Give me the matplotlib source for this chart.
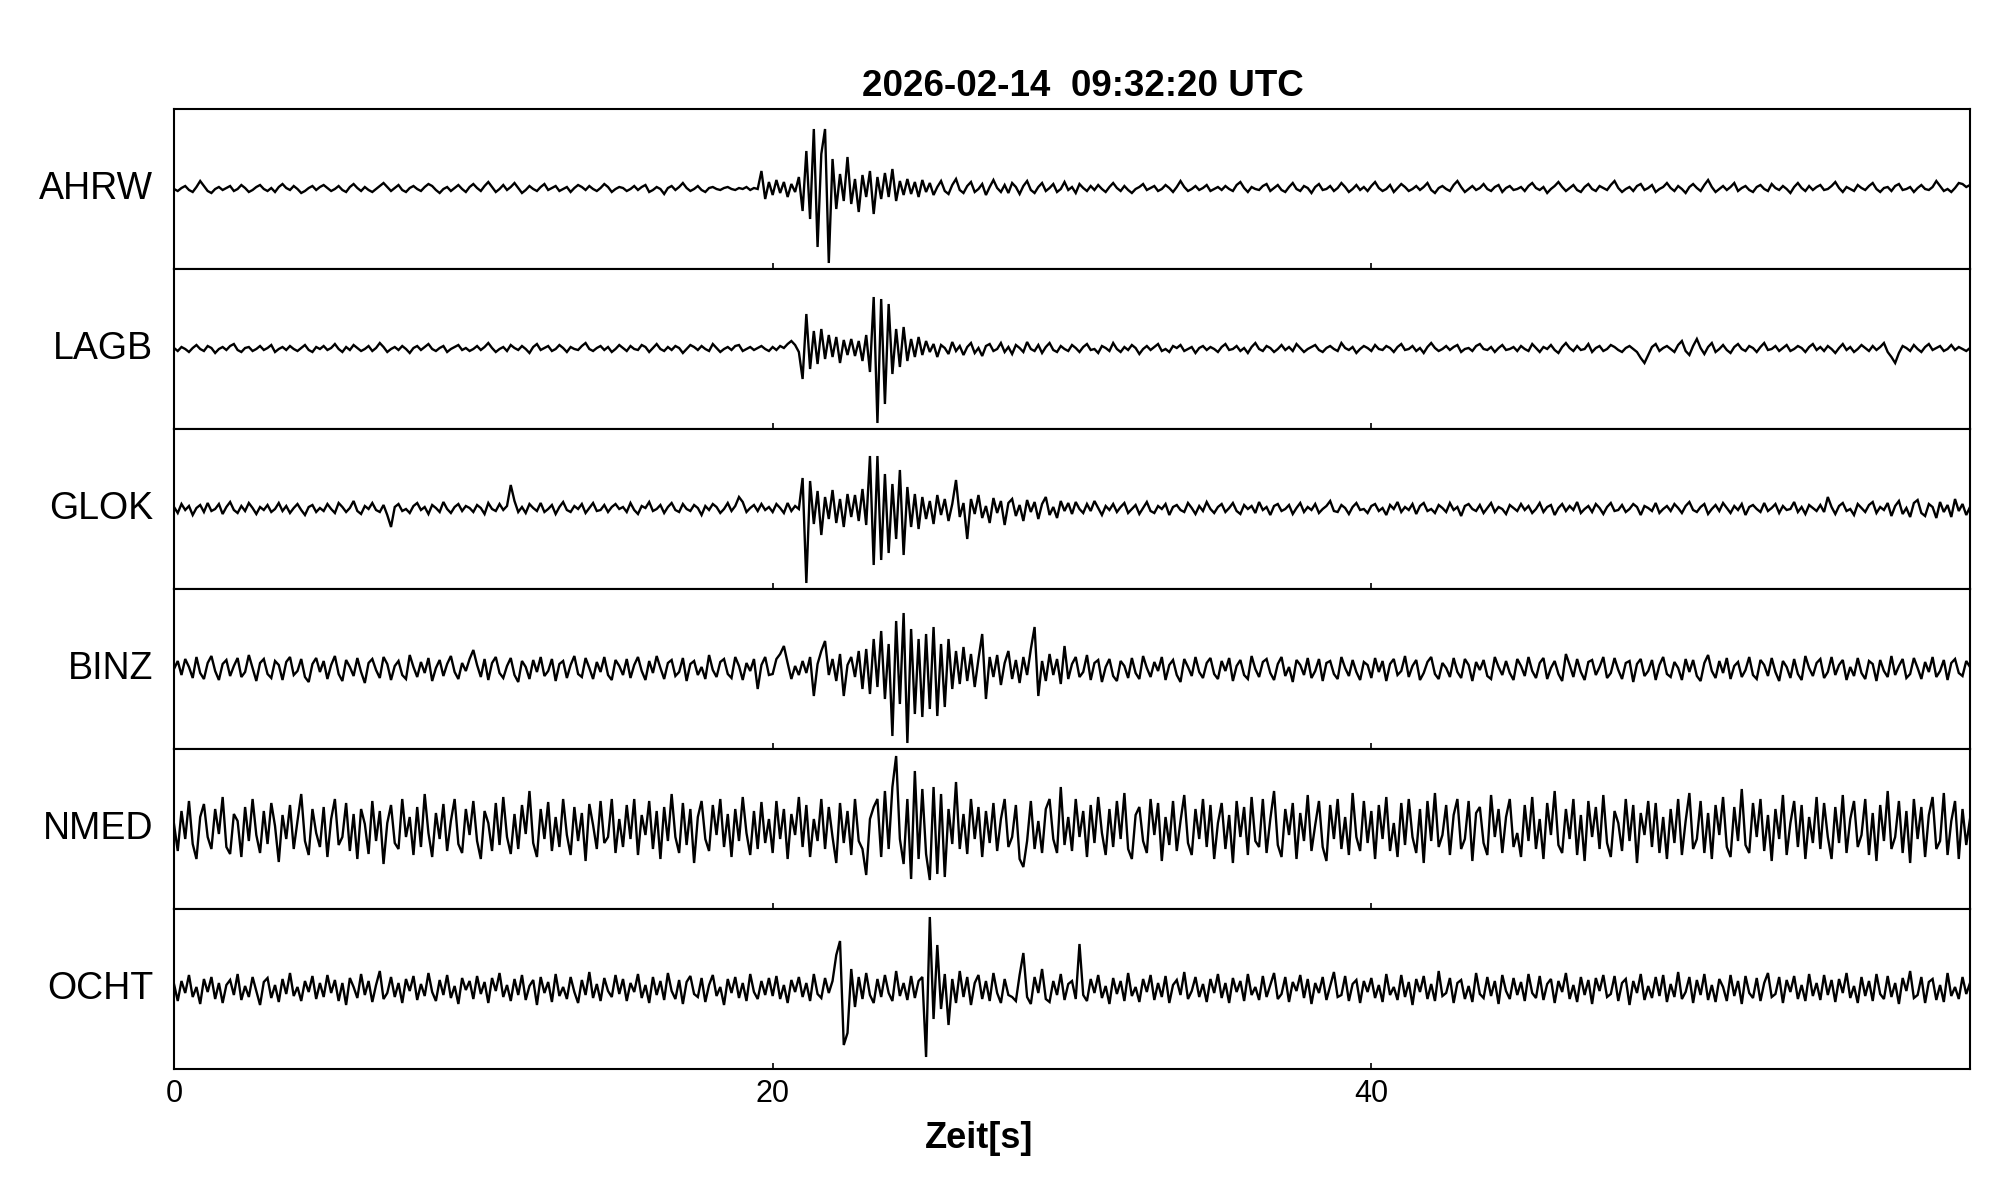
import numpy as np
import matplotlib
matplotlib.use("Agg")
import matplotlib.pyplot as plt

plt.rcParams['font.family'] = ['Liberation Sans', 'DejaVu Sans']

TITLE = "2026-02-14  09:32:20 UTC"
XLABEL = "Zeit[s]"
STATIONS = ["AHRW", "LAGB", "GLOK", "BINZ", "NMED", "OCHT"]
X_TICKS = [0, 20, 40]
FS = 8.0

AHRW = [
    0,-2,1,3,-1,-3,2,8,3,-2,-4,0,2,-1,1,3,-2,0,4,1,-3,-1,2,4,0,-2,1,-3,2,5,1,-1,3,0,-4,-2,1,3,-1,2,
    4,1,-2,0,3,-1,-3,2,5,1,-2,2,-1,-3,0,3,6,2,-2,1,4,-1,-3,1,3,0,-2,2,5,3,-1,-4,0,2,-2,1,4,0,-3,2,
    5,1,-2,3,7,2,-3,0,4,-1,2,6,1,-4,-1,3,0,-2,2,5,-1,1,3,-2,0,2,-3,1,4,2,-1,3,0,-2,1,5,2,-3,0,2,
    1,-2,0,3,-1,2,4,-3,-1,2,0,-5,1,3,-1,2,6,1,-2,0,3,-1,-3,1,2,0,-1,1,2,0,-1,1,0,2,-1,1,0,18,-10,7,
    -6,9,-4,7,-8,5,-3,12,-22,38,-30,60,-58,35,60,-74,30,-20,15,-12,32,-15,10,-23,14,-8,18,-25,12,-10,16,-8,20,-12,8,-6,10,-5,7,-8,
    9,-3,6,-6,2,8,-2,-5,4,10,-1,-4,3,7,-3,0,5,-6,2,9,1,-3,4,-4,6,2,-5,3,8,-1,-4,2,6,-2,1,5,-3,0,7,-1,
    2,-4,5,1,-2,3,-1,4,0,-3,2,6,1,-2,3,-1,-4,0,2,5,-1,1,3,-2,0,4,1,-3,2,8,2,-2,0,3,-1,1,4,-2,0,2,
    -1,3,0,-2,4,7,1,-3,2,0,-1,3,5,-2,1,4,-1,-3,2,6,0,-2,3,1,-4,2,5,-1,0,3,-2,1,6,2,-3,0,4,-1,2,-2,
    3,7,1,-2,0,4,-3,1,5,2,-2,0,3,-1,2,6,-1,-4,1,3,0,-2,4,8,2,-3,0,3,-1,1,5,0,-2,2,4,-3,1,3,-1,0,
    2,-2,3,6,1,-1,2,-4,0,3,7,2,-2,1,4,-1,-3,2,5,0,-2,3,1,-1,4,8,1,-3,0,2,-2,3,5,-1,1,4,-3,0,2,6,
    1,-2,3,0,-4,2,5,1,-2,4,9,2,-3,0,3,-1,2,6,-2,1,3,-1,-3,2,4,0,-2,5,1,-1,3,0,-4,2,6,1,-2,3,-1,2,
    4,-1,0,3,7,1,-3,2,0,-2,4,1,-1,3,6,0,-3,1,2,-2,3,5,-1,0,2,-3,1,4,0,-1,2,8,3,-2,0,-3,1,6,5,2,
    4,
]

LAGB = [
    1,-2,2,0,-3,1,4,0,-2,3,1,-4,0,2,-1,3,5,-1,-3,1,2,-2,0,3,-1,1,4,-3,0,2,-1,3,0,-2,1,4,-1,-3,2,0,
    3,-1,1,5,0,-3,2,-1,4,1,-2,0,3,-2,1,6,2,-3,0,2,-1,3,0,-4,1,3,-1,2,5,0,-2,1,3,-3,0,2,4,-1,1,-2,
    0,3,-1,2,6,1,-3,0,2,-2,4,1,-1,3,0,-4,2,5,-1,1,3,-2,0,4,1,-3,2,0,-1,3,6,0,-2,1,3,-1,2,-3,0,4,
    1,-2,3,0,-1,4,2,-3,1,5,0,-2,2,-1,3,1,-4,0,4,2,-1,3,0,-2,5,1,-3,0,2,-1,3,4,-2,0,2,-1,1,3,0,-2,
    2,-1,3,1,5,8,4,-3,-30,35,-20,18,-15,20,-10,14,-8,12,-14,9,-6,10,-7,8,-12,14,-23,52,-74,50,-55,45,-25,20,-18,22,-12,10,-8,12,
    -6,8,-3,5,-8,4,1,-5,7,-2,3,-6,2,6,-4,1,-7,3,5,-2,0,6,-3,2,-5,4,1,-3,7,0,-2,4,-4,2,6,-1,-3,3,0,-2,
    4,1,-3,2,5,-1,0,-4,3,1,-2,6,0,-3,2,-1,4,1,-5,0,3,-1,2,5,-2,0,-3,3,1,4,-2,0,2,-4,1,3,-1,2,0,-3,
    2,5,-1,0,3,-2,1,-4,2,6,0,-2,3,1,-3,0,4,-1,2,-2,5,1,-3,0,2,4,-1,-3,1,3,0,-2,6,1,-1,2,-4,0,3,1,
    -2,4,0,-1,3,1,-3,2,5,-1,0,3,-2,1,-4,2,6,1,-2,0,3,-1,2,4,-3,0,1,-2,3,5,0,-1,2,-3,1,4,-1,0,2,-2,
    3,0,-2,5,1,-3,2,0,4,-1,-4,2,6,1,-2,3,-1,0,5,-3,1,3,-2,0,4,2,-1,-3,1,3,0,-3,-9,-14,-6,2,5,-2,1,3,
    0,-3,4,8,-2,-6,3,10,1,-5,2,6,-3,0,4,-1,-4,2,5,0,-2,3,1,-3,2,6,-1,0,3,-2,1,4,-2,0,3,1,-3,2,5,-1,
    2,-2,3,0,-4,1,5,-1,2,-3,0,4,1,-2,3,-1,2,6,-3,-8,-14,-4,3,1,-2,4,0,-3,2,5,-1,1,3,-2,0,4,-1,2,0,-2,
    1,
]

GLOK = [
    2,-4,5,-1,3,-6,1,4,-3,6,-2,0,5,-5,2,7,-1,-4,3,-2,6,1,-5,2,-1,4,-3,0,6,-2,3,-4,1,5,-1,-6,2,4,-3,1,
    -2,5,0,-4,6,2,-3,1,8,-2,-5,3,0,6,-1,-3,4,-6,-18,2,5,-2,0,-4,3,6,-1,2,-5,4,1,-3,7,0,-4,2,5,-2,3,1,
    -3,4,1,-5,6,0,-2,5,-1,3,24,8,-3,2,-4,5,1,-2,6,-3,0,4,-5,2,7,-1,-3,3,0,5,-4,1,6,-2,-1,4,-3,2,5,0,
    2,-3,6,-1,-5,3,1,7,-2,0,4,-4,2,6,-1,-3,5,0,-2,4,1,-6,3,-1,5,2,-4,0,6,-2,3,12,7,-3,1,4,-2,5,-1,2,
    -3,5,1,-4,6,-2,3,0,31,-74,28,-15,18,-26,12,-10,19,-14,10,-18,15,-8,14,-12,20,-16,53,-56,53,-51,35,-44,25,-30,39,-46,22,-18,15,-20,
    12,-10,8,-15,14,-6,10,-12,5,29,-8,6,-30,10,-5,14,-9,3,-14,11,-4,8,-16,6,10,-7,4,-12,9,-3,7,-10,5,12,-6,2,-9,8,-2,6,
    -5,7,0,-4,5,-2,8,1,-6,3,-1,5,-3,2,6,-4,0,4,-5,1,7,-2,-4,3,0,5,-6,2,4,-1,-3,6,1,-5,3,-2,7,0,-4,2,
    5,-3,1,6,-2,-5,4,0,3,-4,7,-1,2,-6,3,5,-2,0,4,-5,1,6,-3,2,-1,5,-4,0,3,8,-2,-3,4,1,-5,2,6,-1,0,-4,
    3,5,-2,1,-6,4,0,7,-3,2,-1,5,-5,3,6,-2,0,-4,4,1,-3,6,-1,2,-7,3,5,0,-2,4,-4,1,6,-3,2,0,-5,4,1,-2,
    5,-1,3,-4,0,6,-3,2,4,-6,1,5,-2,3,-1,7,-4,0,3,-3,5,1,-5,2,6,-2,-1,4,-3,0,5,2,-6,3,1,-2,6,-4,0,3,
    -2,5,1,-4,3,7,-1,-3,2,5,-5,0,4,-2,6,1,-4,3,-1,5,-6,2,4,0,-3,6,-2,1,5,-4,3,-1,0,7,-3,2,-5,4,1,-2,
    4,-3,12,2,-5,3,6,-2,0,-6,5,1,-3,4,7,-4,2,-1,6,-7,3,8,-5,1,-8,6,9,-4,-7,5,2,-9,7,-3,4,-8,10,-2,5,-6,
    2,
]

BINZ = [
    0,8,-6,10,2,-9,12,-4,-10,6,13,-2,-11,5,9,-7,3,11,-8,-3,14,1,-12,6,10,-5,-9,8,4,-11,7,12,-6,-2,10,-8,-13,5,11,-3,
    8,-10,4,13,-5,-12,9,2,-7,11,-3,-14,6,10,-1,-9,12,5,-11,3,8,-6,-10,14,2,-8,7,-4,11,-12,1,9,-7,5,13,-3,-10,6,-2,10,
    19,4,-8,10,-11,6,12,-4,-9,3,11,-6,-13,8,2,-10,9,-3,12,-7,-2,10,-12,5,8,-9,4,13,-5,-8,11,1,-10,7,-3,12,-6,-11,9,3,
    -6,10,-9,4,12,-2,-11,8,-4,13,1,-10,6,9,-7,-3,11,-12,5,8,-6,2,-10,14,-1,-8,7,10,-5,-9,12,3,-11,6,-2,10,-20,4,12,-6,
    -5,10,15,23,6,-10,3,-6,8,-4,12,-27,5,18,28,-6,10,-12,15,-27,4,12,-8,18,-20,20,-25,30,-18,38,-30,25,-67,48,-35,56,-74,40,-45,30,
    -48,35,-40,42,-47,25,-38,30,-20,18,-15,22,-12,15,-18,10,35,-30,12,-8,14,-16,6,18,-10,9,-14,12,-6,20,42,-27,8,-12,15,-6,10,-15,23,-10,
    5,12,-8,-3,14,-11,6,9,-13,2,10,-7,-12,8,3,-9,11,-4,-10,13,1,-8,7,-2,12,-11,4,9,-6,-13,10,2,-7,12,-3,-9,6,11,-5,-10,
    8,-2,11,-12,3,9,-6,-10,13,0,-8,7,10,-4,-11,5,12,-7,2,-13,9,4,-6,11,-9,-2,10,-12,6,8,-5,-10,12,1,-7,9,-3,-11,7,4,
    -9,11,-3,8,-12,5,10,-6,-2,13,-8,3,9,-11,-4,7,12,-5,-10,6,1,-8,11,-3,-9,10,4,-12,7,-1,9,-7,-10,12,2,-6,8,-4,-11,10,
    3,-7,12,-2,-9,6,11,-10,1,8,-5,-12,15,4,-8,10,-3,-11,7,9,-6,2,12,-9,-4,11,-1,-10,6,8,-13,5,10,-7,-2,9,-11,4,12,-5,
    -8,7,1,-11,10,-3,9,-7,-12,6,14,-2,-9,8,-4,11,-10,3,7,-8,-1,12,-6,-10,9,4,-7,11,-3,-12,8,2,-9,10,-5,-11,13,1,-7,6,
    10,-9,-3,12,-6,4,9,-11,2,-7,11,-4,-10,8,5,-12,9,-2,-8,13,-6,3,10,-9,-5,11,1,-10,7,-3,12,-8,-2,9,-11,6,10,-4,-7,8,
    2,
]

NMED = [
    5,-22,18,-10,28,-15,-30,12,25,-8,-20,20,-5,32,-18,-25,15,8,-28,22,-12,30,-6,-24,18,-15,26,3,-33,14,-10,24,-20,8,35,-12,-26,20,-4,-18,
    22,-28,10,30,-16,-8,26,-22,15,-30,20,5,-25,28,-12,18,-35,6,24,-14,-20,30,-8,12,-26,22,-18,35,-4,-28,16,-10,25,-22,8,30,-15,-24,20,-6,
    28,-12,-30,18,6,-22,26,-16,32,-8,-25,15,-20,24,-5,38,-14,-28,20,-10,27,-22,12,-18,30,-6,-26,22,-12,16,-32,25,4,-20,28,-14,-8,30,-24,10,
    -18,24,-10,30,-26,14,-6,28,-20,18,-30,22,-12,35,-8,-24,26,-16,20,-34,12,28,-10,-22,24,-6,30,-18,15,-28,20,-12,32,-4,-26,18,-20,27,-14,10,
    -24,28,-10,20,-30,15,-6,32,-18,24,-28,10,-12,30,-20,22,-8,-34,26,-14,18,-26,30,-12,-20,-46,10,22,30,-28,38,-20,42,73,-10,-35,30,-50,58,-30,
    40,-25,-51,42,-45,35,-48,20,-15,47,-20,15,-25,30,-10,22,-28,18,-14,26,-22,10,30,-18,-8,24,-30,-38,-12,28,-20,8,-24,20,30,-10,-24,42,-16,12,
    -22,30,-8,18,-28,24,-14,32,-4,-26,20,-18,28,-10,36,-20,-30,14,22,-12,-24,30,-6,26,-32,12,-16,28,-22,8,34,-14,-26,20,-10,30,-18,24,-30,6,
    26,-20,14,-34,28,-8,22,-26,32,-12,-18,30,-24,10,38,-16,-28,20,-6,26,-30,16,-12,34,-22,4,28,-18,-32,24,-10,30,-20,12,-26,36,-8,-22,28,-14,
    18,-30,24,-10,32,-22,6,-28,26,-16,30,-8,-24,20,-34,28,-12,36,-18,-6,24,-26,14,30,-20,-10,28,-32,16,22,-14,-26,34,-8,20,-24,12,30,-18,-4,
    -28,24,-12,32,-20,10,-30,26,-6,38,-16,-24,20,-10,30,-26,14,-32,28,-8,22,-20,34,-14,-28,18,6,-22,30,-12,24,-34,16,-6,28,-18,26,-24,12,-30,
    20,-14,30,-26,8,36,-20,-10,28,-24,16,-30,24,-6,32,-18,-28,22,-12,40,-16,-24,26,-8,30,-22,14,-32,20,-10,34,-26,6,28,-18,24,-30,12,-14,32,
    -20,26,-8,-30,22,-14,34,-24,10,28,-18,-6,30,-26,16,-32,24,-12,38,-20,-8,28,-24,18,-34,30,-10,22,-28,14,32,-20,-12,36,-26,8,28,-30,20,-16,
    10,
]

OCHT = [
    5,-12,8,-4,14,-8,2,-15,10,-3,12,-10,6,-14,4,9,-6,15,-11,3,-8,12,-2,-16,7,11,-9,4,-13,10,-5,16,-7,2,-12,8,-3,13,-10,6,
    -8,14,-4,9,-12,6,-16,11,2,-9,15,-6,8,-13,4,18,-10,-4,12,-8,6,-14,10,-2,13,-11,5,-7,16,-3,-12,9,-6,14,-9,3,-15,11,-1,8,
    -10,13,-5,7,-14,11,-2,16,-8,4,-12,10,-6,14,-11,3,9,-16,12,-4,7,-13,15,-7,2,-10,12,-3,-14,9,-6,17,-9,5,-12,11,-2,-8,14,-5,
    10,-12,6,-3,15,-9,4,-14,12,-6,8,-11,16,-2,-10,9,-15,7,13,-5,-8,11,-13,4,14,-7,2,-16,10,-4,12,-9,6,-12,15,-3,-10,8,-6,11,
    -7,13,-10,4,-14,9,-3,12,-8,6,-12,15,-5,-9,11,-4,8,34,48,-56,-44,20,-18,12,-10,16,-6,-14,10,-8,14,-4,-12,18,-7,6,-11,13,-9,8,
    12,-68,72,-30,44,-20,15,-36,10,-14,18,-8,12,-16,6,14,-10,8,-12,16,-4,-14,10,-6,-8,-12,14,36,-8,-15,12,-4,20,-10,-13,8,-6,15,-11,5,
    8,-10,45,-6,-12,10,-4,14,-9,3,-15,11,-5,8,-12,16,-7,2,-13,10,-3,14,-11,6,-8,13,-14,4,9,-6,17,-10,-2,12,-8,5,-13,10,-4,15,
    -9,6,-14,11,-3,8,-12,15,-6,2,-11,13,-8,4,16,-10,-5,12,-13,7,-2,14,-9,10,-15,6,-4,12,-11,3,17,-8,-6,13,-12,5,9,-14,8,-3,
    11,-9,4,-13,15,-6,2,-11,14,-8,7,-16,10,-3,13,-10,5,-12,18,-7,-4,11,-14,6,9,-10,3,-13,16,-5,-9,12,-7,8,-15,14,-2,-10,11,-6,
    7,-12,15,-4,-9,13,-11,5,10,-14,8,-3,16,-10,4,-13,12,-6,9,-15,11,-2,14,-8,-5,13,-12,6,10,-16,8,-4,15,-11,3,-9,12,-7,14,-13,
    5,-8,17,-10,-3,12,-14,9,-6,15,-11,4,-13,10,2,-12,14,-7,8,-15,13,-4,-9,11,-12,6,16,-8,-5,12,-14,9,-3,13,-10,4,-12,15,-7,6,
    -11,14,-6,9,-13,10,-4,16,-9,3,-14,12,-7,8,-12,15,-5,-10,13,-8,6,-15,11,-2,18,-9,-6,12,-14,7,10,-11,4,-13,16,-7,2,-10,12,-5,
    6,
]

TRACES = [AHRW, LAGB, GLOK, BINZ, NMED, OCHT]

W, H = 2005, 1202
fig = plt.figure(figsize=(W / 100, H / 100), dpi=100)
axes = fig.subplots(len(STATIONS), 1, sharex=True,
                    gridspec_kw=dict(hspace=0, left=174 / W, right=1970 / W,
                                     top=1 - 109 / H, bottom=1 - 1069 / H))

for ax, name, vals in zip(axes, STATIONS, TRACES):
    y = np.asarray(vals, dtype=float)
    t = np.arange(len(y)) / FS
    ax.plot(t, y, color='black', lw=1.7, solid_joinstyle='miter')
    ax.set_xlim(0, 60)
    ax.set_ylim(-80, 80)
    ax.set_yticks([])
    ax.set_xticks(X_TICKS)
    ax.tick_params(axis='x', direction='in', length=4.5, width=1.2,
                   top=False, bottom=True, labelsize=22, pad=7)
    for sp in ax.spines.values():
        sp.set_linewidth(1.5)
    ax.text(-0.0115, 0.5, name, transform=ax.transAxes, ha='right',
            va='center', fontsize=27)

for ax in axes[:-1]:
    ax.tick_params(axis='x', labelbottom=False)

fig.text(1083 / W, 1 - 96 / H, TITLE, ha='center', va='baseline',
         fontsize=26.5, fontweight='bold')
fig.text(979 / W, 1 - 1148 / H, XLABEL, ha='center', va='baseline',
         fontsize=26, fontweight='bold')

fig.savefig("out.png", dpi=100)
